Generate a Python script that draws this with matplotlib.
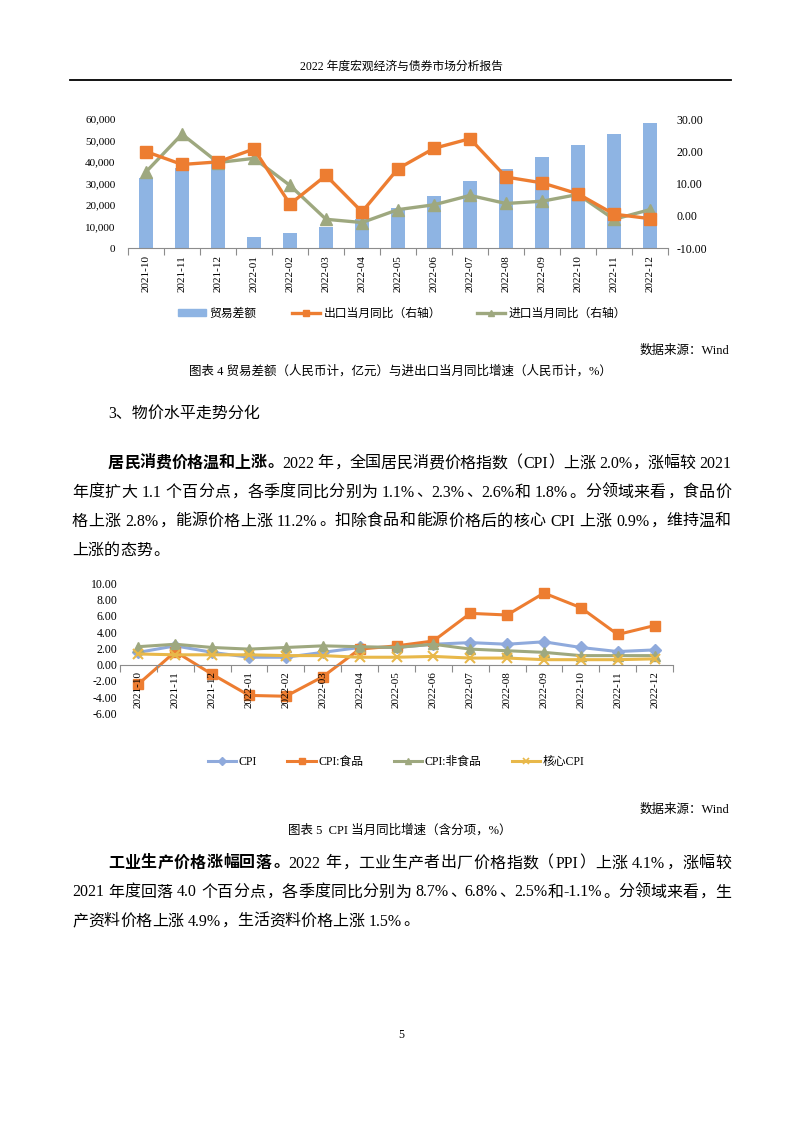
import numpy as np
import matplotlib
matplotlib.use("Agg")
import matplotlib.pyplot as plt
from matplotlib.lines import Line2D
from matplotlib.patches import Patch
from matplotlib.ticker import FuncFormatter

plt.rcParams['font.family'] = ['Liberation Serif', 'Noto Sans CJK SC']

W, H = 802, 1133

# ================= DATA =================

months = ["2021-10", "2021-11", "2021-12", "2022-01", "2022-02", "2022-03", "2022-04",
          "2022-05", "2022-06", "2022-07", "2022-08", "2022-09", "2022-10", "2022-11", "2022-12"]

# chart 4: trade balance (亿元) and export / import yoy (%)
trade_balance = [32700, 37300, 43000, 5100, 7000, 9600, 13700, 18600,
                 24300, 31100, 36600, 42200, 47900, 52900, 58300]
export_yoy = [19.9, 15.9, 16.7, 20.7, 3.6, 12.5, 1.2, 14.6, 20.9, 23.9, 12.0, 10.2, 6.8, 0.5, -0.9]
import_yoy = [13.6, 25.3, 16.5, 17.8, 9.4, -1.1, -2.1, 1.9, 3.4, 6.3, 3.8, 4.5, 6.6, -1.1, 1.9]

# chart 5: CPI yoy and components (%)
cpi = [1.5, 2.3, 1.5, 0.9, 0.9, 1.5, 2.1, 2.1, 2.5, 2.7, 2.5, 2.8, 2.1, 1.6, 1.8]
cpi_food = [-2.4, 1.6, -1.2, -3.8, -3.9, -1.5, 1.9, 2.3, 2.9, 6.3, 6.1, 8.8, 7.0, 3.7, 4.8]
cpi_nonfood = [2.2, 2.5, 2.1, 1.9, 2.1, 2.3, 2.2, 2.1, 2.5, 1.9, 1.7, 1.5, 1.1, 1.1, 1.1]
cpi_core = [1.3, 1.2, 1.2, 1.2, 1.1, 1.1, 0.9, 0.9, 1.0, 0.8, 0.8, 0.6, 0.6, 0.6, 0.7]

BLUE_BAR = "#8EB4E3"
ORANGE = "#ED7D31"
OLIVE = "#9EA87F"
BLUE_LINE = "#8FAADC"
GOLD = "#E8B84A"
AXIS_GREY = "#8C8C8C"

fig = plt.figure(figsize=(W / 100, H / 100), dpi=100)


def px_axes(x0, y0, x1, y1):
    return fig.add_axes([x0 / W, 1 - y1 / H, (x1 - x0) / W, (y1 - y0) / H])


def fy(y):
    return 1 - y / H


# ================= HEADER =================

fig.text(401 / W, fy(67), "2022 年度宏观经济与债券市场分析报告", ha="center", va="center", fontsize=8.5)
fig.add_artist(Line2D([70 / W, 731 / W], [fy(80), fy(80)], color="black", lw=1.3))

# ================= CHART 4 =================

x = np.arange(len(months))
ax1 = px_axes(128, 119, 668, 248)
ax1.bar(x, trade_balance, width=0.4, color=BLUE_BAR, zorder=1)
ax1.set_xlim(-0.5, len(months) - 0.5)
ax1.set_ylim(0, 60000)
ax1.set_yticks(np.arange(0, 60001, 10000))
ax1.yaxis.set_major_formatter(FuncFormatter(lambda v, p: f"{v:,.0f}"))
ax1.set_xticks(x)
ax1.set_xticklabels(months, rotation=90)
ax1.set_xticks(np.arange(-0.5, len(months), 1), minor=True)
ax1.tick_params(axis="x", which="major", length=0, pad=5, labelsize=8)
ax1.tick_params(axis="x", which="minor", length=5, color=AXIS_GREY, width=0.8)
ax1.tick_params(axis="y", length=0, pad=9, labelsize=8)
for s in ["top", "left", "right"]:
    ax1.spines[s].set_visible(False)
ax1.spines["bottom"].set_color(AXIS_GREY)
ax1.spines["bottom"].set_linewidth(0.8)

ax2 = ax1.twinx()
ax2.plot(x, export_yoy, color=ORANGE, lw=2.4, marker="s", ms=8, zorder=3)
ax2.plot(x, import_yoy, color=OLIVE, lw=2.4, marker="^", ms=9, zorder=2)
ax2.set_ylim(-10, 30)
ax2.set_yticks(np.arange(-10, 31, 10))
ax2.yaxis.set_major_formatter(FuncFormatter(lambda v, p: f"{v:.2f}"))
ax2.tick_params(axis="y", length=0, pad=6, labelsize=8.5)
for s in ax2.spines.values():
    s.set_visible(False)

h1 = [Patch(color=BLUE_BAR),
      Line2D([], [], color=ORANGE, lw=2.4, marker="s", ms=5),
      Line2D([], [], color=OLIVE, lw=2.4, marker="^", ms=5)]
fig.legend(h1, ["贸易差额", "出口当月同比（右轴）", "进口当月同比（右轴）"],
           loc="center", bbox_to_anchor=(402 / W, fy(314)), ncol=3, frameon=False,
           fontsize=8.5, handlelength=2.4, handleheight=0.5, handletextpad=0.3, columnspacing=3.0)

fig.text(729 / W, fy(351), "数据来源：Wind", ha="right", va="center", fontsize=9)
fig.text(400 / W, fy(371), "图表 4 贸易差额（人民币计，亿元）与进出口当月同比增速（人民币计，%）",
         ha="center", va="center", fontsize=9)

# ================= BODY TEXT =================

BODY_FS = 11.5
EM = BODY_FS * 100 / 72
renderer = fig.canvas.get_renderer()


def tokenize(s):
    toks, run = [], ""
    for ch in s:
        if ch == " " or ord(ch) >= 128:
            if run:
                toks.append((run, "lat"))
                run = ""
            toks.append((ch, "sp" if ch == " " else "cjk"))
        else:
            run += ch
    if run:
        toks.append((run, "lat"))
    return toks


def body_line(parts, x0, y, x1=None):
    items = []
    for s, wt in parts:
        for tok, kind in tokenize(s):
            if kind == "sp":
                items.append([None, kind, 0.25 * EM])
                continue
            t = fig.text(0, fy(y + 5.5), tok, fontsize=BODY_FS, fontweight=wt, va="baseline")
            if kind == "lat":
                w = t.get_window_extent(renderer).width
            else:
                w = EM
            items.append([t, kind, w])
    total = sum(it[2] for it in items)
    extra = 0 if x1 is None else (x1 - x0 - total) / max(len(items) - 1, 1)
    cur = x0
    for t, kind, w in items:
        if t is not None:
            ch = t.get_text()
            if kind == "lat":
                t.set_ha("left"); xx = cur
            elif ch in "，。、：；":
                t.set_ha("left"); xx = cur + 0.08 * EM
            elif ch == "（":
                t.set_ha("right"); xx = cur + w - 0.05 * EM
            elif ch == "）":
                t.set_ha("left"); xx = cur + 0.05 * EM
            else:
                t.set_ha("center"); xx = cur + w / 2
            t.set_x(xx / W)
        cur += w + extra


fig.text(108 / W, fy(412 + 5.5), "3、物价水平走势分化", fontsize=BODY_FS, va="baseline")

body_line([("居民消费价格温和上涨。", "bold"),
           ("2022 年，全国居民消费价格指数（CPI）上涨 2.0%，涨幅较 2021", "normal")], 108, 462, 731)
body_line([("年度扩大 1.1 个百分点，各季度同比分别为 1.1%、2.3%、2.6%和 1.8%。分领域来看，食品价", "normal")], 72, 491, 731)
body_line([("格上涨 2.8%，能源价格上涨 11.2%。扣除食品和能源价格后的核心 CPI 上涨 0.9%，维持温和", "normal")], 72, 520, 731)
body_line([("上涨的态势。", "normal")], 72, 549)

body_line([("工业生产价格涨幅回落。", "bold"),
           ("2022 年，工业生产者出厂价格指数（PPI）上涨 4.1%，涨幅较", "normal")], 108, 862, 731)
body_line([("2021 年度回落 4.0 个百分点，各季度同比分别为 8.7%、6.8%、2.5%和-1.1%。分领域来看，生", "normal")], 72, 891, 731)
body_line([("产资料价格上涨 4.9%，生活资料价格上涨 1.5%。", "normal")], 72, 920)

# ================= CHART 5 =================

ax3 = px_axes(120, 583.3, 673, 713.3)
# spine position first: moving it resets the tick styling
for s in ["top", "left", "right"]:
    ax3.spines[s].set_visible(False)
ax3.spines["bottom"].set_position(("data", 0))
ax3.spines["bottom"].set_color(AXIS_GREY)
ax3.spines["bottom"].set_linewidth(0.8)

# all lines at zorder 2 so the category labels (axis at 2.5) sit on top of them
ax3.plot(x, cpi, color=BLUE_LINE, lw=2.2, marker="D", ms=6, zorder=2)
ax3.plot(x, cpi_food, color=ORANGE, lw=2.2, marker="s", ms=7, zorder=2)
ax3.plot(x, cpi_nonfood, color=OLIVE, lw=2.2, marker="^", ms=7, zorder=2)
ax3.plot(x, cpi_core, color=GOLD, lw=2.2, marker="x", ms=7, mew=1.5, zorder=2)
ax3.set_xlim(-0.5, len(months) - 0.5)
ax3.set_ylim(-6, 10)
ax3.set_yticks(np.arange(-6, 11, 2))
ax3.yaxis.set_major_formatter(FuncFormatter(lambda v, p: f"{v:.2f}"))
ax3.set_xticks(x)
ax3.set_xticklabels(months, rotation=90)
ax3.set_xticks(np.arange(-0.5, len(months), 1), minor=True)
ax3.tick_params(axis="x", which="major", length=0, pad=5, labelsize=8, labelrotation=90)
ax3.tick_params(axis="x", which="minor", length=5, color=AXIS_GREY, width=0.8)
ax3.tick_params(axis="y", length=0, pad=2, labelsize=8.5)
ax3.set_axisbelow(False)
ax3.patch.set_visible(False)

h2 = [Line2D([], [], color=BLUE_LINE, lw=2.2, marker="D", ms=4),
      Line2D([], [], color=ORANGE, lw=2.2, marker="s", ms=5),
      Line2D([], [], color=OLIVE, lw=2.2, marker="^", ms=5),
      Line2D([], [], color=GOLD, lw=2.2, marker="x", ms=5, mew=1.2)]
fig.legend(h2, ["CPI", "CPI:食品", "CPI:非食品", "核心CPI"],
           loc="center", bbox_to_anchor=(396 / W, fy(762)), ncol=4, frameon=False,
           fontsize=8.5, handlelength=2.4, handletextpad=0.2, columnspacing=2.6)

fig.text(729 / W, fy(810), "数据来源：Wind", ha="right", va="center", fontsize=9)
fig.text(400 / W, fy(830), "图表 5  CPI 当月同比增速（含分项，%）", ha="center", va="center", fontsize=9)

fig.text(401 / W, fy(1035), "5", ha="center", va="center", fontsize=8.5)

fig.savefig("out.png", dpi=100)
